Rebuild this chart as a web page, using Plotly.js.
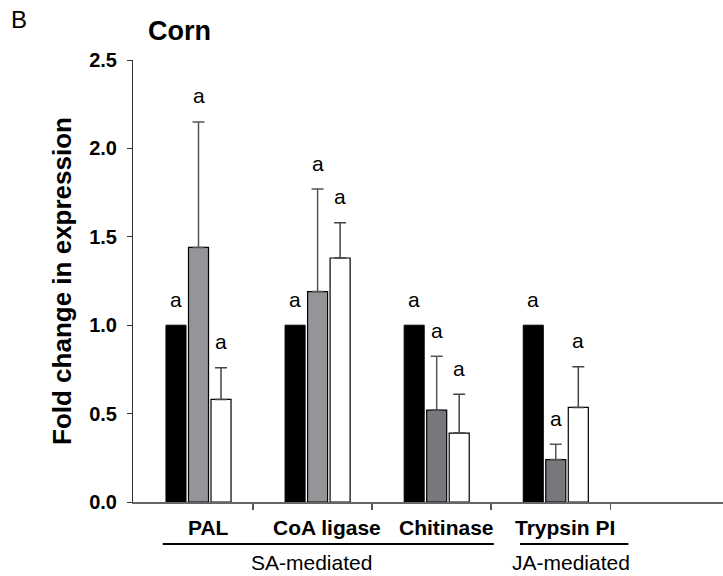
<!DOCTYPE html>
<html><head><meta charset="utf-8">
<script src="https://cdn.plot.ly/plotly-3.0.1.min.js"></script>
<style>html,body{margin:0;padding:0;background:#fff;overflow:hidden}</style>
</head><body>
<div id="chart" style="width:723px;height:576px"></div>
<script>
// Data
const categories = ["PAL", "CoA ligase", "Chitinase", "Trypsin PI"];
const controlValues = [1.0, 1.0, 1.0, 1.0];
const treat1Values = [1.44, 1.19, 0.52, 0.24];
const treat1Errors = [0.71, 0.58, 0.305, 0.087];
const treat2Values = [0.58, 1.38, 0.39, 0.535];
const treat2Errors = [0.18, 0.20, 0.22, 0.23];
const letters = [["a","a","a"],["a","a","a"],["a","a","a"],["a","a","a"]];
const yTickVals = [0, 0.5, 1.0, 1.5, 2.0, 2.5];
const yTickText = ["0.0", "0.5", "1.0", "1.5", "2.0", "2.5"];
const groupLabels = ["SA-mediated", "JA-mediated"];

const xIdx = categories.map((c, i) => i);
const FONT = "Liberation Sans, Arial, sans-serif";
const slot = 0.189;

const traces = [
  {type: "bar", x: xIdx, y: controlValues, marker: {color: "#000000", line: {color: "#000", width: 1}}, hoverinfo: "none"},
  {type: "bar", x: xIdx, y: treat1Values,
   marker: {color: ["#939598", "#939598", "#77787b", "#77787b"], line: {color: "#000", width: 1.2}},
   error_y: {type: "data", array: treat1Errors, symmetric: false, arrayminus: treat1Errors.map(() => 0), color: "#555", thickness: 1.5, width: 6}, hoverinfo: "none"},
  {type: "bar", x: xIdx, y: treat2Values,
   marker: {color: "#ffffff", line: {color: "#000", width: 1.2}},
   error_y: {type: "data", array: treat2Errors, symmetric: false, arrayminus: treat2Errors.map(() => 0), color: "#444", thickness: 1.5, width: 6}, hoverinfo: "none"}
];

const tops = [controlValues, treat1Values.map((v, i) => v + treat1Errors[i]), treat2Values.map((v, i) => v + treat2Errors[i])];
const annotations = [];
categories.forEach((c, i) => {
  for (let j = 0; j < 3; j++) {
    annotations.push({x: i + (j - 1) * slot, y: tops[j][i], xref: "x", yref: "y", text: letters[i][j],
      showarrow: false, yshift: 26, font: {family: FONT, size: 21, color: "#000"}});
  }
  annotations.push({x: i + 0.08, y: -0.057, xref: "x", yref: "paper", yanchor: "middle", text: "<b>" + c + "</b>",
    showarrow: false, font: {family: FONT, size: 21, color: "#000"}});
});
// group labels
annotations.push({x: 0.945, y: -0.136, xref: "x", yref: "paper", yanchor: "middle", text: groupLabels[0], showarrow: false, font: {family: FONT, size: 21, color: "#000"}});
annotations.push({x: 3.13, y: -0.136, xref: "x", yref: "paper", yanchor: "middle", text: groupLabels[1], showarrow: false, font: {family: FONT, size: 21, color: "#000"}});
annotations.push({x: 0, y: 1, xref: "paper", yref: "paper", xanchor: "left", yanchor: "middle", text: "B", showarrow: false,
  font: {family: FONT, size: 24, color: "#000"}, xshift: -124, yshift: 41});
annotations.push({x: 0, y: 1, xref: "paper", yref: "paper", xanchor: "left", yanchor: "middle", text: "<b>Corn</b>", showarrow: false,
  font: {family: FONT, size: 27, color: "#000"}, xshift: 13, yshift: 29});

const shapes = [
  {type: "line", xref: "x", yref: "paper", x0: -0.30, x1: 2.48, y0: -0.095, y1: -0.095, line: {color: "#000", width: 2}},
  {type: "line", xref: "x", yref: "paper", x0: 2.70, x1: 3.61, y0: -0.095, y1: -0.095, line: {color: "#000", width: 2}}
];

const layout = {
  width: 723, height: 576,
  margin: {l: 133, r: 0, t: 60, b: 74, pad: 0},
  paper_bgcolor: "#fff", plot_bgcolor: "#fff",
  showlegend: false,
  barmode: "group", bargap: 0.433, bargroupgap: 0.11,
  xaxis: {range: [-0.55, 4.404], tickvals: xIdx.map(i => i + 0.458), ticktext: xIdx.map(() => ""),
    ticks: "outside", ticklen: 6, tickcolor: "#555", tickwidth: 1.5,
    showline: true, linecolor: "#666", linewidth: 1.5, showgrid: false, zeroline: false, fixedrange: true},
  yaxis: {range: [0, 2.5], tickvals: yTickVals, ticktext: yTickText, ticks: "outside", ticklen: 5, tickcolor: "#333", tickwidth: 1,
    showline: true, linecolor: "#333", linewidth: 1, showgrid: false, zeroline: false,
    tickfont: {family: FONT, size: 20, color: "#000", weight: "bold"}, ticklabelstandoff: 6,
    title: {text: "<b>Fold change in expression</b>", font: {family: FONT, size: 26, color: "#000"}, standoff: 10}},
  annotations: annotations,
  shapes: shapes
};

Plotly.newPlot("chart", traces, layout, {displayModeBar: false, staticPlot: true});
</script>
</body></html>
